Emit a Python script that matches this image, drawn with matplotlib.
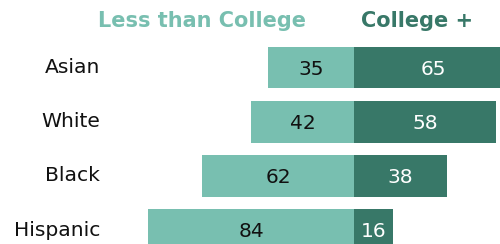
import matplotlib
matplotlib.use("Agg")
import matplotlib.pyplot as plt

groups = ["Asian", "White", "Black", "Hispanic"]
less_college = [35, 42, 62, 84]
college_plus = [65, 58, 38, 16]

light = "#78bfb0"
dark = "#387868"

plt.rcParams['font.family'] = ['DejaVu Sans']

fig = plt.figure(figsize=(5, 2.44), dpi=100)
ax = fig.add_axes([0, 0, 1, 1])

ys = list(range(len(groups)))
ax.barh(ys, [-v for v in less_college], height=0.77, color=light)
ax.barh(ys, college_plus, height=0.77, color=dark)

for y, g, a, b in zip(ys, groups, less_college, college_plus):
    ax.text(-a / 2, y + 0.03, str(a), ha="center", va="center", fontsize=14.5, color="#111111")
    ax.text(b / 2, y + 0.03, str(b), ha="center", va="center", fontsize=14.5, color="white")
    ax.text(-103.7, y, g, ha="right", va="center", fontsize=14.6, color="#111111")

ax.text(-62, -0.86, "Less than College", ha="center", va="center",
        fontsize=15, fontweight="bold", color=light)
ax.text(25.7, -0.86, "College +", ha="center", va="center",
        fontsize=15, fontweight="bold", color=dark)

ax.set_xlim(-144.5, 59.6)
ax.set_ylim(3.257, -1.245)
ax.axis("off")

fig.savefig("out.png", dpi=100)
